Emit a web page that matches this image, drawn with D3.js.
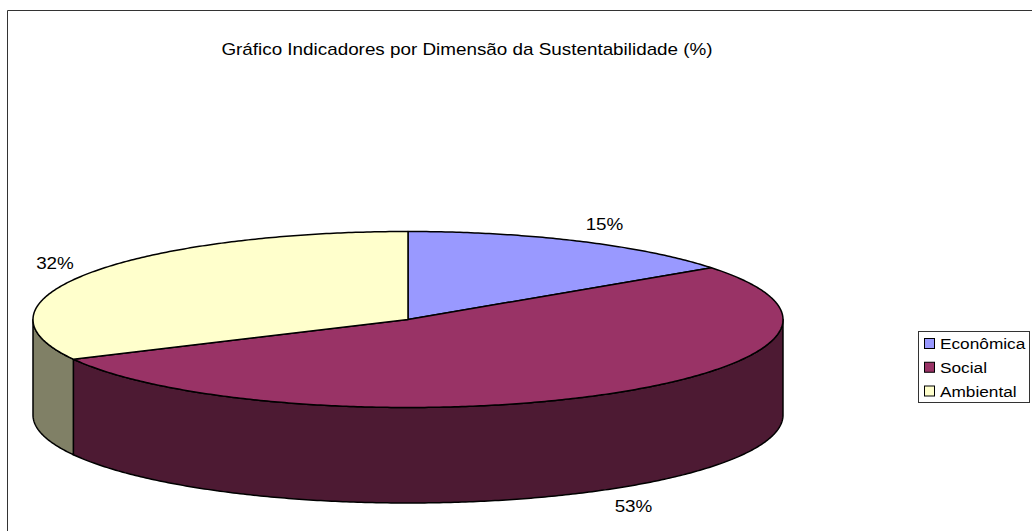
<!DOCTYPE html>
<html><head><meta charset="utf-8">
<script src="https://cdn.jsdelivr.net/npm/d3@7/dist/d3.min.js"></script>
<style>html,body{margin:0;padding:0;background:#fff}svg{display:block}text{font-family:"Liberation Sans",Arial,sans-serif;fill:#000}</style>
</head><body><svg id="c" width="1032" height="531"></svg>
<script>
const categories = ["Econômica","Social","Ambiental"];
const values = [15,52.55,32.45];
const topColors = ["#9999ff","#993366","#ffffcc"];
const sideColors = ["#4d4d80","#4d1a33","#808066"];
const title = "Gráfico Indicadores por Dimensão da Sustentabilidade (%)";

const svg = d3.select("#c");
const cx=408,cy=319.5,rx=375,ry=88,depth=95.5,stretch=1.15,sw=1.5;
const px = a => cx + rx*Math.sin(a), py = a => cy - ry*Math.cos(a);

svg.append("path").attr("d","M7.5,531V10.5H1032").attr("fill","none").attr("stroke","#333").attr("stroke-width",1);

const arcs = d3.pie().sort(null).value(d=>d)(values);
const line = d3.line();
function ellipsePts(a0,a1,dy){
  const n=Math.max(2,Math.ceil(Math.abs(a1-a0)/0.01));
  return d3.range(n+1).map(i=>{const a=a0+(a1-a0)*i/n;return [px(a),py(a)+dy];});
}
const front0=Math.PI/2, front1=3*Math.PI/2;
arcs.forEach((d,i)=>{
  const a0=Math.max(d.startAngle,front0), a1=Math.min(d.endAngle,front1);
  if(a1>a0){
    const t=ellipsePts(a0,a1,0), b=ellipsePts(a1,a0,depth);
    svg.append("path").attr("d",line(t.concat(b))+"Z").attr("fill",sideColors[i]).attr("stroke","#000").attr("stroke-width",sw).attr("stroke-linejoin","round");
  }
});
arcs.forEach((d,i)=>{
  const pts=[[cx,cy]].concat(ellipsePts(d.startAngle,d.endAngle,0));
  svg.append("path").attr("d",line(pts)+"Z").attr("fill",topColors[i]).attr("stroke","#000").attr("stroke-width",sw).attr("stroke-linejoin","round");
});
function label(x,y,size,anchor,str){
  svg.append("text").attr("transform",`translate(${x},${y}) scale(${stretch},1)`).attr("text-anchor",anchor).attr("font-size",size).text(str);
}
label(467,55,16.4,"middle",title);
const labelPos=[[604.5,229.5],[633.5,511.5],[55,269]];
arcs.forEach((d,i)=>label(labelPos[i][0],labelPos[i][1],16.4,"middle",Math.round(values[i])+"%"));

const lx=918,ly=331,lw=111,lh=71;
svg.append("rect").attr("x",lx+.5).attr("y",ly+.5).attr("width",lw).attr("height",lh).attr("fill","#fff").attr("stroke","#333");
const ys=d3.scalePoint().domain(categories).range([343.5,391]);
categories.forEach((c,i)=>{
  svg.append("rect").attr("x",924.5).attr("y",ys(c)-5).attr("width",10).attr("height",10).attr("fill",topColors[i]).attr("stroke","#000");
  label(940,ys(c)+5.5,15,"start",c);
});
</script></body></html>
